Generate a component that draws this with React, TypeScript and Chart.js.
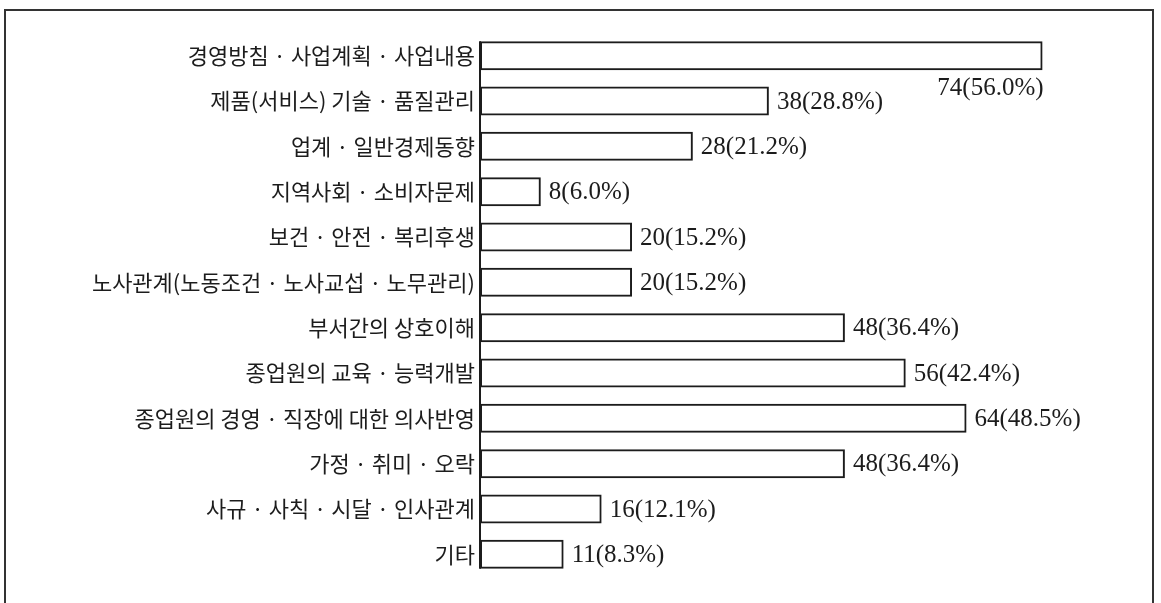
import React, { useEffect, useRef } from "react";
import { Chart, registerables } from "chart.js";

Chart.register(...registerables);

const categories: string[] = [
  "경영방침 · 사업계획 · 사업내용",
  "제품(서비스) 기술 · 품질관리",
  "업계 · 일반경제동향",
  "지역사회 · 소비자문제",
  "보건 · 안전 · 복리후생",
  "노사관계(노동조건 · 노사교섭 · 노무관리)",
  "부서간의 상호이해",
  "종업원의 교육 · 능력개발",
  "종업원의 경영 · 직장에 대한 의사반영",
  "가정 · 취미 · 오락",
  "사규 · 사칙 · 시달 · 인사관계",
  "기타",
];

const counts: number[] = [74, 38, 28, 8, 20, 20, 48, 56, 64, 48, 16, 11];
const percents: number[] = [56.0, 28.8, 21.2, 6.0, 15.2, 15.2, 36.4, 42.4, 48.5, 36.4, 12.1, 8.3];

const xMin = 0;
const xMax = 88;

const INK = "#1c1c1c";

const valueLabelPlugin = {
  id: "valueLabels",
  afterDatasetsDraw(chart: any) {
    const ctx = chart.ctx as CanvasRenderingContext2D;
    const meta = chart.getDatasetMeta(0);
    const area = chart.chartArea;
    ctx.save();
    // axis line from first bar top to last bar bottom
    const first = meta.data[0].getProps(["y", "height"], true);
    const last = meta.data[meta.data.length - 1].getProps(["y", "height"], true);
    const x0 = chart.scales.x.getPixelForValue(0);
    ctx.strokeStyle = INK;
    ctx.lineWidth = 2;
    ctx.beginPath();
    ctx.moveTo(x0, first.y - first.height / 2);
    ctx.lineTo(x0, last.y + last.height / 2);
    ctx.stroke();

    ctx.font = "25px 'Liberation Serif', serif";
    ctx.fillStyle = INK;
    ctx.textBaseline = "middle";
    meta.data.forEach((bar: any, i: number) => {
      const text = `${counts[i]}(${percents[i].toFixed(1)}%)`;
      const w = ctx.measureText(text).width;
      const { x, y, height } = bar.getProps(["x", "y", "height"], true);
      if (x + 8 + w > area.right) {
        ctx.textAlign = "right";
        ctx.fillText(text, x + 1, y + height / 2 + 18);
      } else {
        ctx.textAlign = "left";
        ctx.fillText(text, x + 8, y + 1);
      }
    });
    ctx.restore();
  },
};

export default function App() {
  const canvasRef = useRef<HTMLCanvasElement | null>(null);

  useEffect(() => {
    if (!canvasRef.current) return;
    const chart = new Chart(canvasRef.current, {
      type: "bar",
      data: {
        labels: categories,
        datasets: [
          {
            data: counts,
            backgroundColor: "rgba(255,255,255,0)",
            borderColor: INK,
            borderWidth: 2,
            borderSkipped: false,
            barPercentage: 0.64,
            categoryPercentage: 1,
          },
        ],
      },
      options: {
        indexAxis: "y",
        responsive: false,
        animation: false,
        layout: { padding: { top: 33, bottom: 26, left: 0, right: 12 } },
        plugins: {
          legend: { display: false },
          tooltip: { enabled: false },
          title: { display: false },
        },
        scales: {
          x: {
            display: false,
            min: xMin,
            max: xMax,
          },
          y: {
            grid: { display: false, drawTicks: false },
            border: { display: false },
            ticks: {
              padding: 5,
              color: INK,
              font: { family: "'Noto Sans CJK KR', sans-serif", size: 22 },
            },
            afterFit: (scale: any) => {
              scale.width = 480;
            },
          },
        },
      },
      plugins: [valueLabelPlugin],
    } as any);
    return () => chart.destroy();
  }, []);

  return (
    <div
      style={{
        position: "fixed",
        left: 0,
        top: 0,
        width: 1161,
        height: 603,
        overflow: "hidden",
        background: "#fff",
      }}
    >
      <div
        style={{
          position: "absolute",
          left: 4,
          top: 9,
          width: 1150,
          height: 640,
          border: "2px solid #333",
          boxSizing: "border-box",
        }}
      />
      <canvas
        ref={canvasRef}
        width={1161}
        height={603}
        style={{ position: "absolute", left: 0, top: 0 }}
      />
    </div>
  );
}
